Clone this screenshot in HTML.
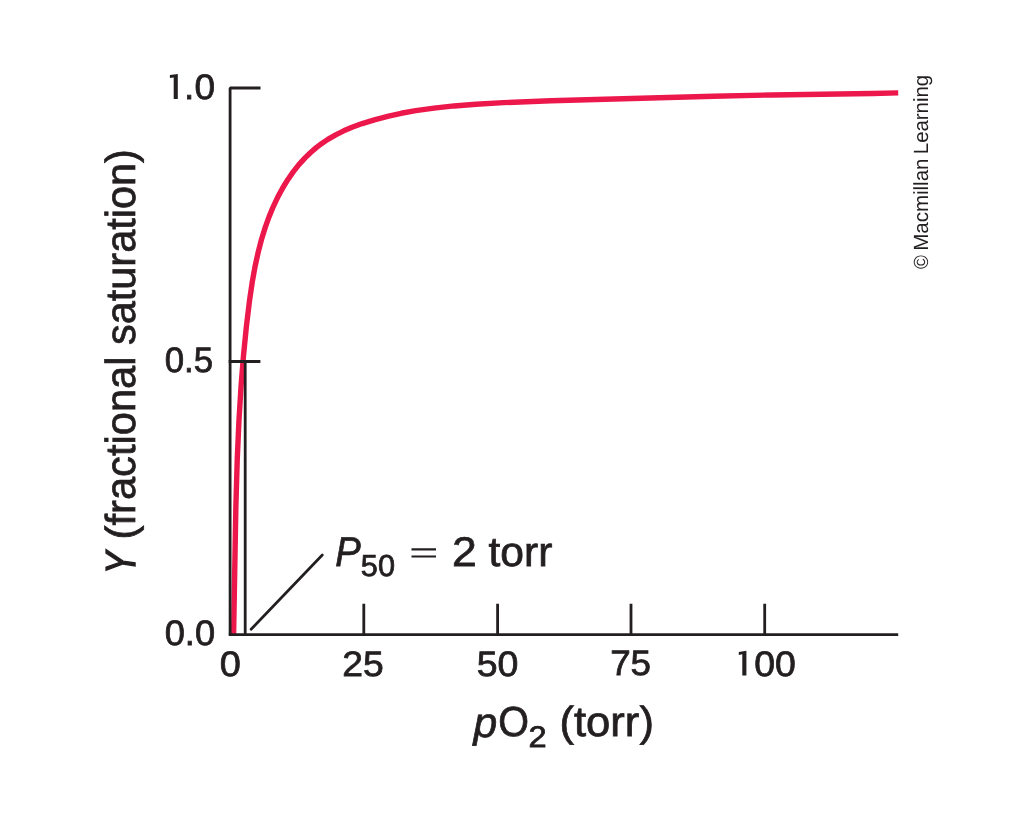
<!DOCTYPE html>
<html><head><meta charset="utf-8"><style>
html,body{margin:0;padding:0;background:#fff;width:1036px;height:814px;overflow:hidden}
svg{position:absolute;left:0;top:0;display:block;will-change:transform}
text{font-family:"Liberation Sans",sans-serif;text-rendering:geometricPrecision}
</style></head><body>
<svg width="1036" height="814" viewBox="0 0 1036 814">
<rect width="1036" height="814" fill="#fff"/>
<path d="M233.60,634.50 L235.87,506.41 L237.26,458.96 L238.95,420.65 L241.07,386.00 L243.55,355.00 L246.47,325.81 L249.57,300.26 L252.25,282.08 L255.19,265.85 L258.33,251.58 L261.56,239.25 L265.32,227.10 L269.02,216.86 L273.18,206.79 L277.87,196.91 L283.11,187.25 L287.93,179.43 L293.18,171.88 L298.89,164.67 L305.07,157.84 L310.37,152.71 L315.96,147.90 L321.81,143.44 L327.87,139.37 L335.68,134.82 L343.74,130.82 L352.01,127.29 L362.20,123.58 L374.38,119.83 L388.60,116.08 L401.22,113.28 L415.78,110.69 L434.02,108.12 L454.09,105.94 L475.99,104.19 L503.36,102.64 L550.83,100.80 L713.43,96.18 L771.94,94.94 L872.57,93.51 L898.20,92.90" fill="none" stroke="#ec174b" stroke-width="5.4" stroke-linejoin="round"/>
<g fill="none" stroke="#231f20" stroke-width="2.8">
<path d="M230.1,634.6 V88.0 H260.5" stroke-linejoin="bevel"/>
<path d="M228.7,361.5 H260.4"/>
<path d="M245.2,361.5 V634.6"/>
<path d="M228.7,634.6 H898.2"/>
<path d="M363.8,603.8 V634.6 M497.6,603.8 V634.6 M631,603.8 V634.6 M764.7,603.8 V634.6"/>
<path d="M251.1,629.3 L322.3,555.0" stroke-width="2.7" stroke-linecap="round"/>
<path d="M411.5,549.4 H436 M411.5,556.5 H436" stroke-width="2.1"/>
</g>
<text transform="translate(184.12,98.70) scale(1.0485,1)" font-size="35.3" style="" fill="#231f20" stroke="#231f20" stroke-width="0.75">.0</text>
<text transform="translate(164.71,371.50) scale(0.9872,1)" font-size="35.3" style="" fill="#231f20" stroke="#231f20" stroke-width="0.75">0.5</text>
<text transform="translate(164.67,644.50) scale(1.0277,1)" font-size="35.3" style="" fill="#231f20" stroke="#231f20" stroke-width="0.75">0.0</text>
<text transform="translate(219.83,675.50) scale(1.0743,1)" font-size="35.3" style="" fill="#231f20" stroke="#231f20" stroke-width="0.75">0</text>
<text transform="translate(342.31,675.50) scale(1.0575,1)" font-size="35.3" style="" fill="#231f20" stroke="#231f20" stroke-width="0.75">25</text>
<text transform="translate(476.64,675.50) scale(1.0631,1)" font-size="35.3" style="" fill="#231f20" stroke="#231f20" stroke-width="0.75">50</text>
<text transform="translate(610.13,675.30) scale(1.0438,1)" font-size="35.3" style="" fill="#231f20" stroke="#231f20" stroke-width="0.75">75</text>
<text transform="translate(754.24,675.50) scale(1.0604,1)" font-size="35.3" style="" fill="#231f20" stroke="#231f20" stroke-width="0.75">00</text>
<text transform="translate(335.28,566.20) scale(0.9196,1)" font-size="41.5" style="font-style:italic" fill="#231f20" stroke="#231f20" stroke-width="0.75">P</text>
<text transform="translate(360.84,575.80) scale(1.0109,1)" font-size="30.4" style="" fill="#231f20" stroke="#231f20" stroke-width="0.75">50</text>
<text transform="translate(452.02,565.90) scale(1.0718,1)" font-size="41.5" style="" fill="#231f20" stroke="#231f20" stroke-width="0.75">2</text>
<text transform="translate(488.44,565.60) scale(1.0267,1)" font-size="41.5" style="" fill="#231f20" stroke="#231f20" stroke-width="0.75">torr</text>
<text transform="translate(473.42,737.30) scale(1.0147,1)" font-size="42" style="font-style:italic" fill="#231f20" stroke="#231f20" stroke-width="0.75">p</text>
<text transform="translate(498.25,736.30) scale(0.9402,1)" font-size="42" style="" fill="#231f20" stroke="#231f20" stroke-width="0.75">O</text>
<text transform="translate(528.44,746.60) scale(1.0877,1)" font-size="30" style="" fill="#231f20" stroke="#231f20" stroke-width="0.75">2</text>
<text transform="translate(559.46,736.00) scale(1.0382,1)" font-size="42" style="" fill="#231f20" stroke="#231f20" stroke-width="0.75">(torr)</text>
<text transform="translate(134.80,573.87) rotate(-90) scale(0.7896,1)" font-size="42" style="font-style:italic" fill="#231f20" stroke="#231f20" stroke-width="1.5">Y</text>
<text transform="translate(134.80,539.43) rotate(-90) scale(0.9919,1)" font-size="42" style="" fill="#231f20" stroke="#231f20" stroke-width="0.75">(fractional</text>
<text transform="translate(134.80,344.94) rotate(-90) scale(0.9862,1)" font-size="42" style="" fill="#231f20" stroke="#231f20" stroke-width="0.75">saturation)</text>
<text transform="translate(927.80,269.03) rotate(-90) scale(0.9172,1)" font-size="20.5" style="" fill="#231f20" stroke="#231f20" stroke-width="0.0">©</text>
<text transform="translate(927.80,250.85) rotate(-90) scale(1.0006,1)" font-size="20.5" style="" fill="#231f20" stroke="#231f20" stroke-width="0.0">Macmillan</text>
<text transform="translate(927.80,154.14) rotate(-90) scale(0.9928,1)" font-size="20.5" style="" fill="#231f20" stroke="#231f20" stroke-width="0.0">Learning</text>
<path fill="#231f20" d="M177.8,73.9 L177.8,98.9 L173.7,98.9 L173.7,77.4 L169.9,78.0 L169.9,75.1 Z M746.4,650.8 L746.4,675.6 L742.3,675.6 L742.3,654.3 L738.8,654.9 L738.8,652.0 Z"/>
</svg>
</body></html>
